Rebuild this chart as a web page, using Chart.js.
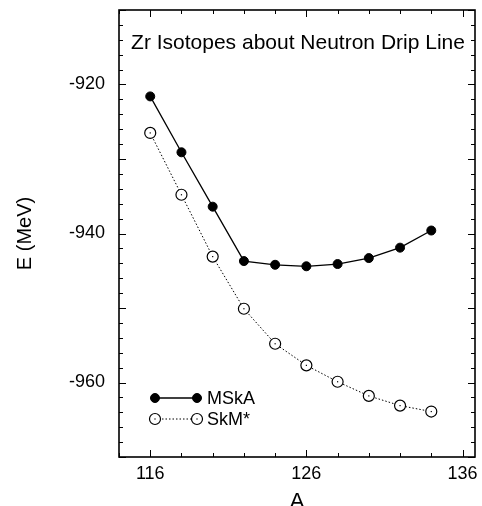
<!DOCTYPE html>
<html>
<head>
<meta charset="utf-8">
<script src="https://cdn.jsdelivr.net/npm/chart.js@4.4.0/dist/chart.umd.min.js"></script>
<style>
  html, body { margin: 0; padding: 0; background: #fff; overflow: hidden; }
  #box { width: 482px; height: 506px; }
</style>
</head>
<body>
<div id="box"><canvas id="grafico"></canvas></div>
<script>
// Dati
const massaA = [116, 118, 120, 122, 124, 126, 128, 130, 132, 134];
const energiaMSkA = [-921.6, -929.1, -936.4, -943.7, -944.2, -944.4, -944.1, -943.3, -941.9, -939.6];
const energiaSkM = [-926.5, -934.8, -943.1, -950.1, -954.8, -957.7, -959.9, -961.8, -963.1, -963.9];
const etichetteX = [116, 126, 136];
const etichetteY = [-960, -940, -920];
const titoloGrafico = 'Zr Isotopes about Neutron Drip Line';

const FONT = "'Liberation Sans', Arial, Helvetica, sans-serif";

// Cornice del grafico + tacche interne su tutti i lati
const cornice = {
    id: 'cornice',
    afterDraw(chart) {
        const { ctx, chartArea: a, scales: { x, y } } = chart;
        ctx.save();
        ctx.strokeStyle = '#000';
        ctx.lineWidth = 1;
        ctx.beginPath();
        for (let v = 114; v <= x.max; v += 2) {
            const px = Math.round(x.getPixelForValue(v)) + 0.5;
            const len = (v - 116) % 10 === 0 ? 7 : 4;
            ctx.moveTo(px, a.bottom); ctx.lineTo(px, a.bottom - len);
            ctx.moveTo(px, a.top); ctx.lineTo(px, a.top + len);
        }
        for (let v = y.min; v <= y.max; v += 2) {
            const py = Math.round(y.getPixelForValue(v)) + 0.5;
            const len = v % 10 === 0 ? 7 : 4;
            ctx.moveTo(a.left, py); ctx.lineTo(a.left + len, py);
            ctx.moveTo(a.right, py); ctx.lineTo(a.right - len, py);
        }
        ctx.stroke();
        ctx.lineWidth = 1.6;
        ctx.strokeRect(a.left, a.top, a.right - a.left, a.bottom - a.top);
        ctx.restore();
    }
};

// Titolo interno, puntino centrale nei cerchi vuoti, legenda interna
const decorazioni = {
    id: 'decorazioni',
    afterDatasetsDraw(chart) {
        const { ctx, chartArea: a } = chart;
        ctx.save();
        ctx.fillStyle = '#000';
        // puntini al centro dei cerchi SkM*
        chart.getDatasetMeta(1).data.forEach(p => {
            ctx.fillRect(p.x - 0.6, p.y - 0.6, 1.2, 1.2);
        });
        // titolo
        ctx.font = '21px ' + FONT;
        ctx.textAlign = 'center';
        ctx.textBaseline = 'middle';
        ctx.fillText(titoloGrafico, (a.left + a.right) / 2 + 1, a.top + 33);
        // legenda
        const ds = chart.data.datasets;
        const righe = [398, 419];
        ctx.font = '18px ' + FONT;
        ctx.textAlign = 'left';
        ds.forEach((d, i) => {
            const yy = righe[i];
            const x1 = a.left + 36, x2 = a.left + 78;
            ctx.beginPath();
            ctx.strokeStyle = '#000';
            ctx.lineWidth = d.borderWidth;
            ctx.setLineDash(d.borderDash || []);
            ctx.moveTo(x1, yy); ctx.lineTo(x2, yy);
            ctx.stroke();
            ctx.setLineDash([]);
            [x1, x2].forEach(cx => {
                ctx.beginPath();
                ctx.arc(cx, yy, d.pointRadius, 0, Math.PI * 2);
                ctx.fillStyle = d.pointBackgroundColor;
                ctx.fill();
                ctx.lineWidth = d.pointBorderWidth;
                ctx.stroke();
                if (i === 1) { ctx.fillStyle = '#000'; ctx.fillRect(cx - 0.6, yy - 0.6, 1.2, 1.2); }
            });
            ctx.fillStyle = '#000';
            ctx.fillText(d.label, x2 + 10, yy + 1);
        });
        ctx.restore();
    }
};

new Chart(document.getElementById('grafico'), {
    type: 'line',
    data: {
        datasets: [{
            label: 'MSkA',
            data: massaA.map((a, i) => ({ x: a, y: energiaMSkA[i] })),
            borderColor: '#000',
            borderWidth: 1.3,
            pointRadius: 4.5,
            pointBackgroundColor: '#000',
            pointBorderColor: '#000',
            pointBorderWidth: 1,
            tension: 0
        }, {
            label: 'SkM*',
            data: massaA.map((a, i) => ({ x: a, y: energiaSkM[i] })),
            borderColor: '#000',
            borderWidth: 1,
            borderDash: [1.5, 2],
            pointRadius: 5.5,
            pointBackgroundColor: '#fff',
            pointBorderColor: '#000',
            pointBorderWidth: 1.2,
            tension: 0
        }]
    },
    options: {
        responsive: true,
        maintainAspectRatio: false,
        animation: false,
        layout: { padding: { top: 10, right: 7, left: 0, bottom: 0 } },
        plugins: {
            legend: { display: false },
            tooltip: { enabled: false }
        },
        scales: {
            x: {
                type: 'linear',
                min: 114,
                max: 136.8,
                afterBuildTicks: s => { s.ticks = etichetteX.map(v => ({ value: v })); },
                afterFit: s => { s.height = 49; s.paddingLeft = 0; s.paddingRight = 0; },
                grid: { display: false, drawTicks: false },
                border: { display: false },
                ticks: { color: '#000', padding: 6, font: { family: FONT, size: 18 }, maxRotation: 0 },
                title: {
                    display: true, text: 'A', color: '#000',
                    font: { family: FONT, size: 22 },
                    padding: { top: 0, bottom: -9 }
                }
            },
            y: {
                min: -970,
                max: -910,
                afterBuildTicks: s => { s.ticks = etichetteY.map(v => ({ value: v })); },
                afterFit: s => { s.width = 119; s.paddingTop = 0; s.paddingBottom = 0; },
                grid: { display: false, drawTicks: false },
                border: { display: false },
                ticks: { color: '#000', padding: 14, font: { family: FONT, size: 18 } },
                title: {
                    display: true, text: 'E (MeV)', color: '#000',
                    font: { family: FONT, size: 20 },
                    padding: { top: 13, bottom: 0 }
                }
            }
        }
    },
    plugins: [cornice, decorazioni]
});
</script>
</body>
</html>
